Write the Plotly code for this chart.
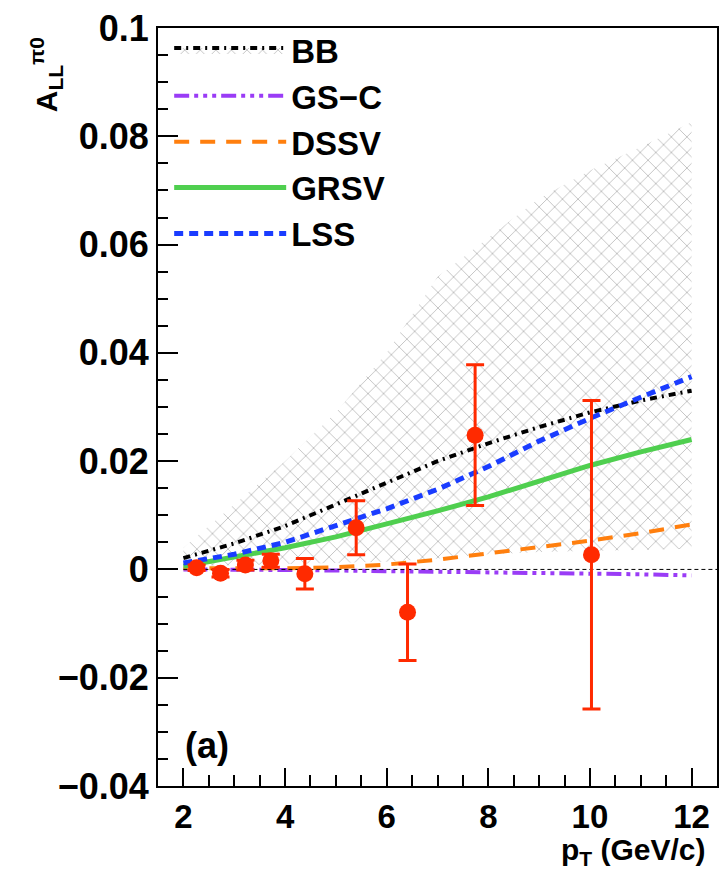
import plotly.graph_objects as go

# ---------------- data ----------------
pt_theory = [2, 3, 4, 5, 6, 7, 8, 9, 10, 11, 12]
bb_center = [0.0021, 0.0048, 0.0080, 0.0120, 0.0160, 0.0200, 0.0233, 0.0263, 0.0290, 0.0312, 0.0330]
bb_upper = [0.0040, 0.0120, 0.0200, 0.0290, 0.0400, 0.0540, 0.0612, 0.0685, 0.0737, 0.0780, 0.0826]
bb_lower = [0.0006, 0.0008, 0.0010, 0.0012, 0.0014, 0.0020, 0.0028, 0.0032, 0.0034, 0.0036, 0.0038]
gsc = [0.0000, 0.0000, -0.0001, -0.0002, -0.0003, -0.0005, -0.0006, -0.0007, -0.0008, -0.0009, -0.0011]
dssv = [0.0002, 0.0002, 0.0002, 0.0004, 0.0009, 0.0018, 0.0030, 0.0042, 0.0053, 0.0067, 0.0083]
grsv = [0.0006, 0.0022, 0.0040, 0.0060, 0.0083, 0.0108, 0.0134, 0.0163, 0.0192, 0.0217, 0.0240]
lss = [0.0012, 0.0028, 0.0050, 0.0080, 0.0112, 0.0148, 0.0190, 0.0237, 0.0279, 0.0318, 0.0356]

pt_data = [2.26, 2.73, 3.22, 3.72, 4.39, 5.40, 6.41, 7.74, 10.03]
all_data = [0.0003, -0.0007, 0.0008, 0.0016, -0.0008, 0.0077, -0.0079, 0.0248, 0.0027]
all_err = [0.0005, 0.0007, 0.0009, 0.0012, 0.0028, 0.0050, 0.0089, 0.0130, 0.0285]

zero_x = [2, 12.5]
zero_y = [0, 0]

x_tickvals = [2, 4, 6, 8, 10, 12]
x_ticktext = ["2", "4", "6", "8", "10", "12"]
y_tickvals = [-0.04, -0.02, 0, 0.02, 0.04, 0.06, 0.08, 0.1]
y_ticktext = ["\u22120.04", "\u22120.02", "0", "0.02", "0.04", "0.06", "0.08", "0.1"]

FONT = "Liberation Sans"
hatch = dict(shape="x", size=11, solidity=0.15, fgcolor="#7a7a7a", bgcolor="rgba(255,255,255,0)")

fig = go.Figure()

# BB band lower edge (invisible)
fig.add_trace(go.Scatter(x=pt_theory, y=bb_lower, mode="lines", line=dict(width=0),
                         showlegend=False, hoverinfo="skip"))
# BB central line, filled down to the lower edge
fig.add_trace(go.Scatter(x=pt_theory, y=bb_center, mode="lines", name="BB",
                         line=dict(color="black", width=4, dash="7px,5px,2px,5px"),
                         fill="tonexty", fillcolor="rgba(255,255,255,0)", fillpattern=hatch,
                         legendrank=1))
# BB band upper edge, filled down to the central line
fig.add_trace(go.Scatter(x=pt_theory, y=bb_upper, mode="lines", line=dict(width=0),
                         fill="tonexty", fillcolor="rgba(255,255,255,0)", fillpattern=hatch,
                         showlegend=False, hoverinfo="skip"))

fig.add_trace(go.Scatter(x=pt_theory, y=gsc, mode="lines", name="GS\u2212C",
                         line=dict(color="#9a3cf6", width=4,
                                   dash="15px,5px,4px,5px,4px,5px,4px,5px"),
                         legendrank=2))
fig.add_trace(go.Scatter(x=pt_theory, y=dssv, mode="lines", name="DSSV",
                         line=dict(color="#ff7f0e", width=4, dash="15px,11px"),
                         legendrank=3))
fig.add_trace(go.Scatter(x=pt_theory, y=grsv, mode="lines", name="GRSV",
                         line=dict(color="#4fcf4f", width=5),
                         legendrank=4))
fig.add_trace(go.Scatter(x=pt_theory, y=lss, mode="lines", name="LSS",
                         line=dict(color="#1a3cff", width=5, dash="9px,6px"),
                         legendrank=5))

fig.add_trace(go.Scatter(x=zero_x, y=zero_y, mode="lines",
                         line=dict(color="black", width=1, dash="4px,3px"),
                         showlegend=False, hoverinfo="skip"))

fig.add_trace(go.Scatter(x=pt_data, y=all_data, mode="markers",
                         marker=dict(color="#ff2a00", size=17, symbol="circle"),
                         error_y=dict(type="data", array=all_err, visible=True,
                                      color="#ff2a00", thickness=3, width=9),
                         showlegend=False))

axis_common = dict(showline=True, linecolor="black", linewidth=2, mirror=True,
                   ticks="inside", tickcolor="black", tickwidth=2,
                   showgrid=False, zeroline=False)

fig.update_xaxes(range=[1.5, 12.5], tickmode="array", tickvals=x_tickvals, ticktext=x_ticktext,
                 ticklen=18,
                 tickfont=dict(family=FONT, size=33, color="black", weight="bold"),
                 minor=dict(dtick=0.5, tick0=0, ticks="inside", ticklen=11, tickwidth=2,
                            tickcolor="black", showgrid=False),
                 **axis_common)
fig.update_yaxes(range=[-0.04, 0.1], tickmode="array", tickvals=y_tickvals, ticktext=y_ticktext,
                 ticklen=20,
                 tickfont=dict(family=FONT, size=36, color="black", weight="bold"),
                 minor=dict(dtick=0.005, tick0=0, ticks="inside", ticklen=10, tickwidth=2,
                            tickcolor="black", showgrid=False),
                 **axis_common)

fig.update_layout(
    width=720, height=872,
    margin=dict(l=158, r=1, t=28, b=86),
    paper_bgcolor="white", plot_bgcolor="white",
    font=dict(family=FONT, color="black"),
    legend=dict(x=0.02, y=1.008, xanchor="left", yanchor="top",
                bgcolor="rgba(0,0,0,0)", itemwidth=112, traceorder="normal",
                font=dict(family=FONT, size=33, color="black", weight="bold")),
    annotations=[
        dict(text="A<sub>LL</sub><sup>\u03c00</sup>", xref="paper", yref="paper",
             x=-0.2, y=0.99, xanchor="center", yanchor="top", textangle=-90, showarrow=False,
             font=dict(family=FONT, size=30, color="black", weight="bold")),
        dict(text="p<sub>T</sub> (GeV/c)", xref="paper", yref="paper",
             x=0.984, y=-0.087, xanchor="right", yanchor="middle", showarrow=False,
             font=dict(family=FONT, size=30, color="black", weight="bold")),
        dict(text="(a)", xref="paper", yref="paper",
             x=0.044, y=0.054, xanchor="left", yanchor="middle", showarrow=False,
             font=dict(family=FONT, size=36, color="black", weight="bold")),
    ],
)

fig.write_html("out.html")
